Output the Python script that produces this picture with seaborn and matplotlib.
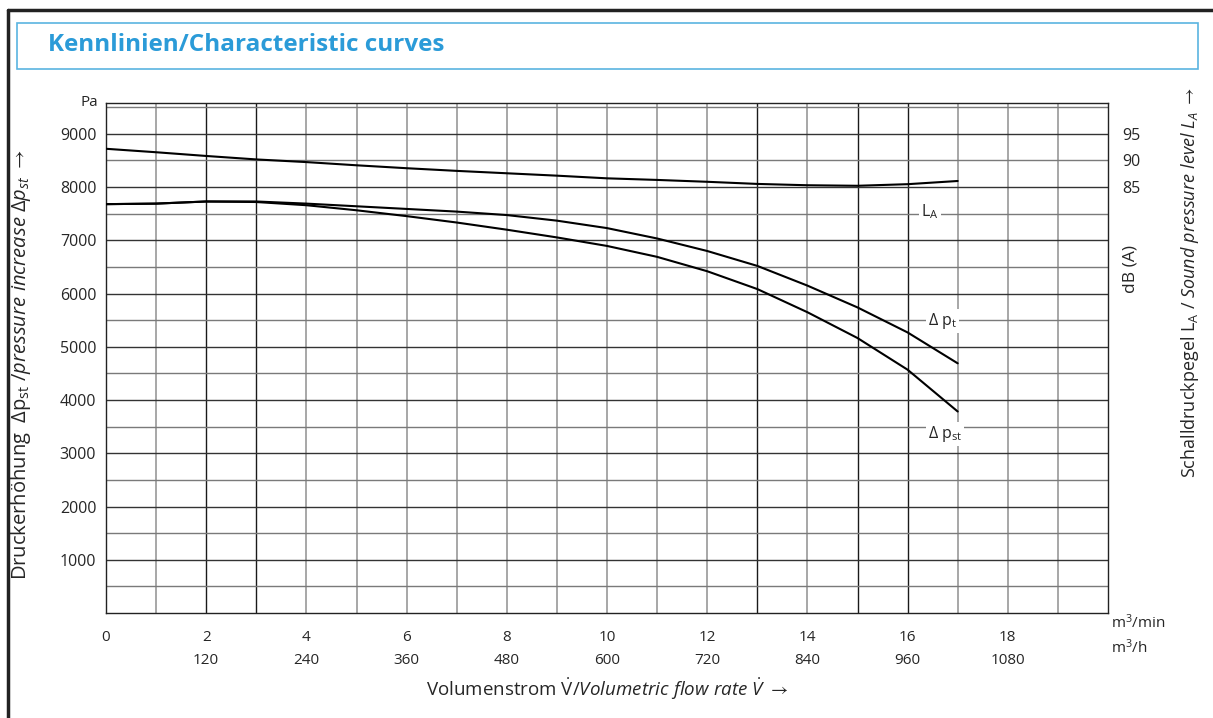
import matplotlib
matplotlib.use("Agg")
import matplotlib.pyplot as plt
import seaborn as sns
import pandas as pd
from matplotlib.patches import Rectangle
from matplotlib.lines import Line2D

# ---- data ----
flow_m3min = [0, 1, 2, 3, 4, 5, 6, 7, 8, 9, 10, 11, 12, 13, 14, 15, 16, 17]
dp_total = [7680, 7690, 7730, 7730, 7690, 7640, 7590, 7540, 7475, 7370, 7230, 7035,
            6800, 6520, 6150, 5740, 5270, 4690]
dp_static = [7680, 7690, 7730, 7720, 7660, 7565, 7455, 7335, 7200, 7055, 6895, 6690,
             6420, 6085, 5650, 5165, 4570, 3785]
sound_dBA = [92.2, 91.55, 90.85, 90.2, 89.7, 89.1, 88.55, 88.05, 87.6, 87.15, 86.65,
             86.35, 86.0, 85.6, 85.35, 85.25, 85.55, 86.15]
x_ticks_min = [0, 2, 4, 6, 8, 10, 12, 14, 16, 18]
x_ticks_h = ["", "120", "240", "360", "480", "600", "720", "840", "960", "1080"]
y_ticks = [1000, 2000, 3000, 4000, 5000, 6000, 7000, 8000, 9000]
db_ticks = [85, 90, 95]

df = pd.DataFrame({"flow": flow_m3min, "dpt": dp_total, "dpst": dp_static, "la": sound_dBA})

sns.set_style("white")
plt.rcParams['font.family'] = ['Open Sans', 'DejaVu Sans']
plt.rcParams['mathtext.fontset'] = 'custom'
plt.rcParams['mathtext.rm'] = 'Open Sans'
plt.rcParams['mathtext.it'] = 'Open Sans:italic'
plt.rcParams['mathtext.bf'] = 'Open Sans:bold'
plt.rcParams['mathtext.fallback'] = 'stixsans'

W, H = 1213, 718
fig = plt.figure(figsize=(W / 100, H / 100), dpi=100)
fig.patch.set_facecolor("white")

def fx(px):
    return px / W

def fy(py):
    return 1 - py / H

ax = fig.add_axes([fx(106), fy(613), fx(1108) - fx(106), fy(103) - fy(613)])
ax.set_xlim(0, 20)
ax.set_ylim(0, 9580)

# grid
dark_v = {2, 3, 13, 15, 16}
for xv in range(1, 20):
    if xv in dark_v:
        ax.axvline(xv, color="#1a1a1a", lw=1.0, zorder=1)
    else:
        ax.axvline(xv, color="#a0a0a0", lw=1.3, zorder=1)
for yv in range(500, 9580, 500):
    col = "#333333" if yv % 1000 == 0 else "#7a7a7a"
    ax.axhline(yv, color=col, lw=1.0, zorder=1)

sns.lineplot(data=df, x="flow", y="dpt", ax=ax, color="black", lw=1.5, zorder=3)
sns.lineplot(data=df, x="flow", y="dpst", ax=ax, color="black", lw=1.5, zorder=3)

ax.set_xticks(x_ticks_min)
ax.set_xticklabels([f"{m}\n{h}" for m, h in zip(x_ticks_min, x_ticks_h)],
                   fontsize=11, linespacing=1.75)
ax.set_yticks(y_ticks)
ax.set_yticklabels([str(v) for v in y_ticks], fontsize=11.5)
ax.tick_params(axis="both", length=0)
ax.tick_params(axis="x", pad=12)
ax.tick_params(axis="y", pad=7)
for s in ax.spines.values():
    s.set_visible(True)
    s.set_color("#222222")
    s.set_linewidth(1.0)
ax.set_xlabel("")
ax.set_ylabel("")

fig.text(fx(607), fy(689), r"Volumenstrom $\dot{\rm V}$/$\it{Volumetric\ flow\ rate}$ $\dot{V}$ $\rightarrow$",
         ha="center", va="center", fontsize=13.5)
fig.text(fx(21), fy(365), r"Druckerhöhung  Δp$_{\rm st}$ /$\it{pressure\ increase}$ $\it{Δp_{st}}$ $\rightarrow$",
         rotation=90, ha="center", va="center", fontsize=14.5)

# units
ax.text(20.05, 0, "m$^3$/min\n" + "m$^3$/h", transform=ax.transData, ha="left", va="top",
        fontsize=11, linespacing=1.5)
ax.text(-0.15, 9580, "Pa", ha="right", va="center", fontsize=11)

# secondary axis for sound level
ax2 = ax.twinx()
ax2.set_ylim(5, 100.8)
sns.lineplot(data=df, x="flow", y="la", ax=ax2, color="black", lw=1.5, zorder=3)
ax2.set_yticks(db_ticks)
ax2.set_yticklabels([str(v) for v in db_ticks], fontsize=11.5)
ax2.tick_params(axis="y", length=0, pad=10)
ax2.set_ylabel("")
ax2.set_xlabel("")
for s in ax2.spines.values():
    s.set_visible(False)
ax.set_xlim(0, 20)

ax.text(1.022, 0.675, "dB (A)", transform=ax.transAxes, rotation=90, ha="center",
        va="center", fontsize=12.5)
fig.text(fx(1190), fy(283), r"Schalldruckpegel L$_{\rm A}$ / $\it{Sound\ pressure\ level}$ $L_{A}$ $\rightarrow$",
         rotation=90, ha="center", va="center", fontsize=13)

# curve labels
bb = dict(facecolor="white", edgecolor="none", pad=1.5)
ax.text(16.45, 7530, r"L$_{\rm A}$", ha="center", va="center", fontsize=11.5, bbox=bb, zorder=4)
ax.text(16.7, 5480, r"Δ p$_{\rm t}$", ha="center", va="center", fontsize=11.5, bbox=bb, zorder=4)
ax.text(16.75, 3370, r"Δ p$_{\rm st}$", ha="center", va="center", fontsize=11.5, bbox=bb, zorder=4)

# title box and outer frame
fig.patches.append(Rectangle((fx(17), fy(69)), fx(1198) - fx(17), fy(23) - fy(69),
                             transform=fig.transFigure, fill=False, edgecolor="#5ab4e0", lw=1.2))
fig.text(fx(48), fy(45), "Kennlinien/Characteristic curves", color="#2b9bd8",
         fontsize=17.5, fontweight="bold", ha="left", va="center")
fig.lines.append(Line2D([fx(8), fx(1213)], [fy(10), fy(10)], transform=fig.transFigure,
                        color="#222222", lw=2.5))
fig.lines.append(Line2D([fx(8), fx(8)], [fy(10), fy(718)], transform=fig.transFigure,
                        color="#222222", lw=2.5))

fig.savefig("out.png", dpi=100)
